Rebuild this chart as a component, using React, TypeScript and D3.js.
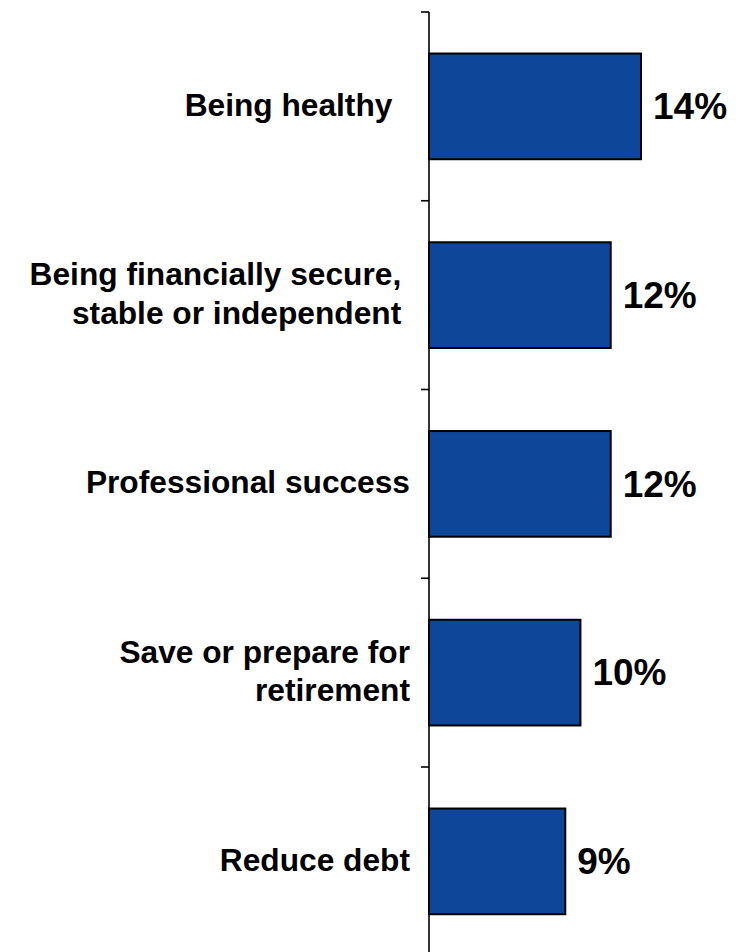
import React from "react";
import * as d3 from "d3";

const categories: string[][] = [
  ["Being healthy  "],
  ["Being financially secure, ", "stable or independent "],
  ["Professional success"],
  ["Save or prepare for", "retirement"],
  ["Reduce debt"],
];
const values: number[] = [14, 12, 12, 10, 9];
const valueLabels: string[] = ["14%", "12%", "12%", "10%", "9%"];

const W = 744;
const H = 952;
const AXIS_X = 429;
const TOP = 12;
const STEP = 188.75;
const FONT = "'Liberation Sans', Arial, Helvetica, sans-serif";

export default function App() {
  const ids = categories.map((_, i) => String(i));
  const y = d3
    .scaleBand<string>()
    .domain(ids)
    .range([TOP, TOP + STEP * ids.length])
    .paddingInner(0.44)
    .paddingOuter(0.22);
  const x = d3.scaleLinear().domain([0, 14]).range([AXIS_X, 641]);
  const boundaries = d3.range(ids.length + 1).map((i) => TOP + i * y.step());
  const lineH = 38.5;

  return (
    <svg
      width={W}
      height={H}
      style={{ position: "absolute", left: 0, top: 0, background: "#fff" }}
      fontFamily={FONT}
    >
      {ids.map((id, i) => (
        <rect
          key={"b" + id}
          x={x(0)}
          y={y(id)!}
          width={x(values[i]) - x(0)}
          height={y.bandwidth()}
          fill="#0E4699"
          stroke="#000"
          strokeWidth={2}
        />
      ))}
      <line x1={AXIS_X} x2={AXIS_X} y1={TOP} y2={boundaries[boundaries.length - 1]} stroke="#000" strokeWidth={1.6} />
      {boundaries.map((b, i) => (
        <line key={"t" + i} x1={AXIS_X - 8} x2={AXIS_X} y1={b} y2={b} stroke="#000" strokeWidth={1.6} />
      ))}
      {ids.map((id, i) => {
        const cy = y(id)! + y.bandwidth() / 2 - 2;
        const lines = categories[i];
        const n = lines.length;
        return (
          <g key={"l" + id}>
            {lines.map((ln, j) => {
              const baseline = cy + (j - (n - 1) / 2) * lineH + 11.3;
              return (
                <text
                  key={j}
                  x={410}
                  y={baseline}
                  textAnchor="end"
                  fontSize={31.7}
                  fontWeight="bold"
                  fill="#000"
                  style={{ whiteSpace: "pre" }}
                >
                  {ln}
                </text>
              );
            })}
          </g>
        );
      })}
      {ids.map((id, i) => {
        const cy = y(id)! + y.bandwidth() / 2;
        return (
          <text
            key={"v" + id}
            x={x(values[i]) + 12}
            y={cy + 12.8}
            fontSize={37}
            fontWeight="bold"
            fill="#000"
          >
            {valueLabels[i]}
          </text>
        );
      })}
    </svg>
  );
}
